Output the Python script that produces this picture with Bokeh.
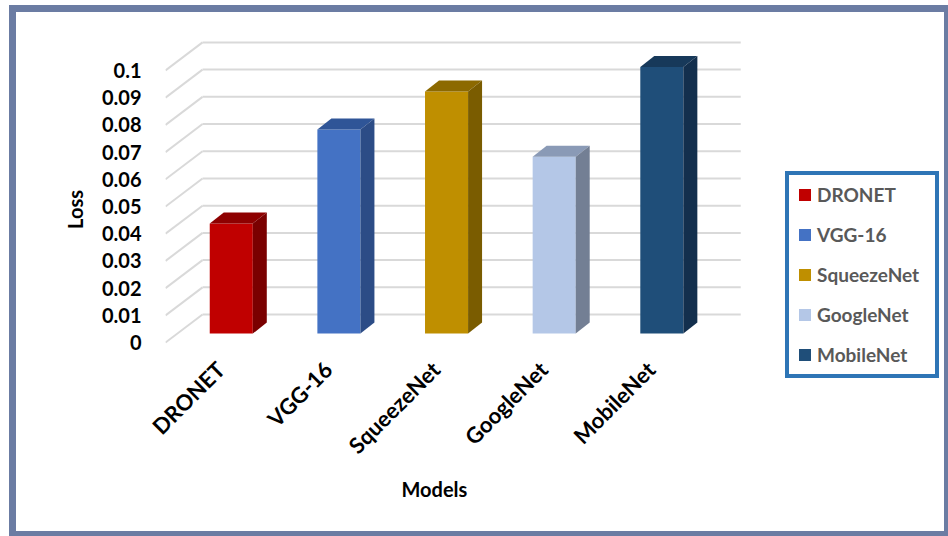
import math
import numpy as np
from bokeh.plotting import figure
from bokeh.models import FixedTicker, NumeralTickFormatter, Legend, LegendItem, ColumnDataSource, Title
from bokeh.embed import file_html
from bokeh.resources import INLINE

# ---------------- data ----------------
models = ["DRONET", "VGG-16", "SqueezeNet", "GoogleNet", "MobileNet"]
loss = [0.0405, 0.075, 0.089, 0.065, 0.098]
front_colors = ["#C00000", "#4472C4", "#BF8F00", "#B4C7E7", "#1F4E79"]
top_colors = ["#8E0000", "#2F5597", "#8C6900", "#8A9AB6", "#17395A"]
side_colors = ["#7A0000", "#2C4C86", "#7A5C00", "#737F94", "#132F4D"]
y_ticks = [0.0, 0.01, 0.02, 0.03, 0.04, 0.05, 0.06, 0.07, 0.08, 0.09, 0.1]
y_title = "Loss"
x_title = "Models"

# ---------------- style / 3D geometry ----------------
FONT = "Lato"
BAR_W = 0.4
BAR_DX, BAR_DY = 0.13, 0.00404      # depth of each bar
WALL_DX, WALL_DY = 0.344, 0.0103    # depth of the whole chart box
FACE_DX, FACE_DY = 0.111, 0.0033    # bar front face offset from the front plane
LABEL_SHIFT = 0.1                   # rotated category labels sit slightly left

n = len(models)
xs = np.arange(n, dtype=float)
vals = np.array(loss)
X0 = -0.5 - FACE_DX                  # front plane left edge
XW = n - 0.5 - FACE_DX + WALL_DX     # back wall right edge
X_END = X0 + 7.2                     # frame also holds the legend
Y0, Y1 = -0.0132, 0.111

p = figure(width=939, height=531, x_range=(X0, X_END), y_range=(Y0, Y1),
           output_backend="svg", toolbar_location=None, title=None,
           min_border_left=156, min_border_right=8,
           min_border_top=35, min_border_bottom=158)
p.styles = {"margin-left": "9px", "margin-top": "5px",
            "box-shadow": "inset 7px 7px 0 0 #6B7CA3, inset -4px -5px 0 0 #6B7CA3"}
p.outline_line_color = None
p.xgrid.visible = False
p.ygrid.visible = False
p.background_fill_color = "white"
p.border_fill_color = None

# ---------------- walls (gridlines) ----------------
yt = np.array(y_ticks)
p.multi_line(xs=[[X0 + WALL_DX, XW] for _ in yt],
             ys=[[v + WALL_DY, v + WALL_DY] for v in yt],
             line_color="#D9D9D9", line_width=2)
p.multi_line(xs=[[X0, X0 + WALL_DX] for _ in yt],
             ys=[[v, v + WALL_DY] for v in yt],
             line_color="#D9D9D9", line_width=2)

# ---------------- 3D bars ----------------
left = xs - BAR_W / 2
right = xs + BAR_W / 2
bottom = np.full(n, FACE_DY)
top = vals + FACE_DY

src = ColumnDataSource(dict(left=left, right=right, bottom=bottom, top=top,
                            color=front_colors, name=models))
front = p.quad(left="left", right="right", bottom="bottom", top="top",
               fill_color="color", line_color=None, source=src)

top_xs = [[l, r, r + BAR_DX, l + BAR_DX] for l, r in zip(left, right)]
top_ys = [[t, t, t + BAR_DY, t + BAR_DY] for t in top]
p.patches(xs=top_xs, ys=top_ys, fill_color=top_colors, line_color=None)

side_xs = [[r, r + BAR_DX, r + BAR_DX, r] for r in right]
side_ys = [[b, b + BAR_DY, t + BAR_DY, t] for b, t in zip(bottom, top)]
p.patches(xs=side_xs, ys=side_ys, fill_color=side_colors, line_color=None)

# ---------------- axes ----------------
p.yaxis.ticker = FixedTicker(ticks=y_ticks)
p.yaxis.formatter = NumeralTickFormatter(format="0.[00]")
p.yaxis.major_label_text_font = FONT
p.yaxis.major_label_text_font_style = "bold"
p.yaxis.major_label_text_font_size = "20px"
p.yaxis.major_label_text_color = "#000000"
p.yaxis.major_label_standoff = 24
p.yaxis.axis_line_color = None
p.yaxis.major_tick_line_color = None
p.yaxis.minor_tick_line_color = None
p.yaxis.major_tick_out = 0
p.yaxis.major_tick_in = 0
p.yaxis.axis_label = y_title
p.yaxis.axis_label_text_font = FONT
p.yaxis.axis_label_text_font_style = "bold"
p.yaxis.axis_label_text_font_size = "20px"
p.yaxis.axis_label_text_color = "#000000"
p.yaxis.axis_label_standoff = 12

tick_pos = [float(x - LABEL_SHIFT) for x in xs]
p.xaxis.ticker = FixedTicker(ticks=tick_pos)
p.xaxis.major_label_overrides = {t: m for t, m in zip(tick_pos, models)}
p.xaxis.major_label_orientation = math.pi / 4
p.xaxis.major_label_text_font = FONT
p.xaxis.major_label_text_font_style = "bold"
p.xaxis.major_label_text_font_size = "22px"
p.xaxis.major_label_text_color = "#000000"
p.xaxis.major_label_standoff = -13
p.xaxis.axis_line_color = None
p.xaxis.major_tick_line_color = None
p.xaxis.minor_tick_line_color = None
p.xaxis.major_tick_out = 0
p.xaxis.major_tick_in = 0

p.add_layout(Title(text=x_title, align="left", offset=236, standoff=6,
                   text_font=FONT, text_font_style="bold",
                   text_font_size="20px", text_color="#000000"), "below")

# ---------------- legend ----------------
legend = Legend(items=[LegendItem(label=m, renderers=[front], index=i)
                       for i, m in enumerate(models)],
                location=(620, 0), orientation="vertical",
                glyph_width=15, glyph_height=15, label_height=22,
                spacing=17, padding=8, margin=0, label_standoff=5,
                label_width=110,
                label_text_font=FONT, label_text_font_style="bold",
                label_text_font_size="19px", label_text_color="#595959",
                border_line_color="#2E75B6", border_line_width=4,
                border_line_alpha=1.0,
                background_fill_color="white", background_fill_alpha=1.0)
p.add_layout(legend)

open("out.html", "w").write(file_html(p, INLINE))
